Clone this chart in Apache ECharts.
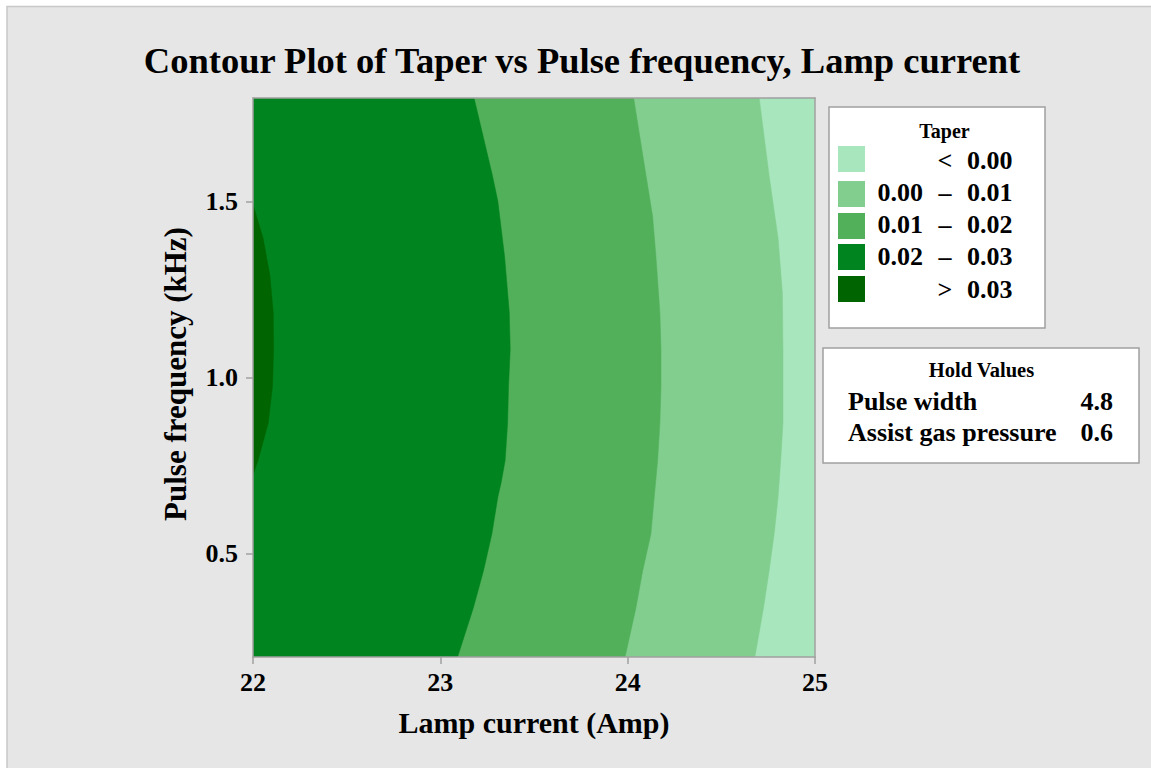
<!DOCTYPE html>
<html><head><meta charset="utf-8">
<script src="https://cdn.jsdelivr.net/npm/echarts@6/dist/echarts.min.js"></script>
<style>html,body{margin:0;padding:0;background:#fff}#c{width:1151px;height:768px}</style>
</head><body><div id="c"></div>
<script>
// ---- data ----
const xMin = 22, xMax = 25;
const yMin = 0.207, yMax = 1.793;
const xTicks = [22, 23, 24, 25];
const yTicks = [0.5, 1.0, 1.5];
const levelNames = ['< 0.00', '0.00 – 0.01', '0.01 – 0.02', '0.02 – 0.03', '> 0.03'];
const levelColors = ['#A8E6BD', '#82CE8F', '#52B05A', '#00841F', '#006400'];
const legendLabels = [['', '<', '0.00'], ['0.00', '–', '0.01'], ['0.01', '–', '0.02'], ['0.02', '–', '0.03'], ['', '>', '0.03']];
const holdNames = ['Pulse width', 'Assist gas pressure'];
const holdValues = ['4.8', '0.6'];

// contour boundaries (x at given y)
const edgeY = [1.793, 0.207];
const edgeX = [25, 25];
const b0Y = [1.793, 1.573, 1.395, 1.238, 1.08, 0.87, 0.765, 0.661, 0.556, 0.451, 0.346, 0.207];
const b0X = [24.702, 24.755, 24.803, 24.826, 24.829, 24.829, 24.817, 24.803, 24.782, 24.755, 24.725, 24.679];
const b1Y = [1.793, 1.573, 1.458, 1.343, 1.185, 1.08, 0.975, 0.87, 0.765, 0.661, 0.556, 0.451, 0.346, 0.207];
const b1X = [24.032, 24.098, 24.133, 24.151, 24.172, 24.178, 24.178, 24.172, 24.16, 24.142, 24.124, 24.08, 24.044, 23.986];
const b2Y = [1.793, 1.573, 1.5, 1.343, 1.185, 1.08, 0.975, 0.87, 0.765, 0.703, 0.661, 0.556, 0.451, 0.346, 0.207];
const b2X = [23.18, 23.278, 23.307, 23.343, 23.368, 23.373, 23.364, 23.359, 23.346, 23.325, 23.307, 23.275, 23.23, 23.176, 23.092];
const b3Y = [1.49, 1.395, 1.29, 1.185, 1.08, 0.975, 0.87, 0.765, 0.724];
const b3X = [22.0, 22.054, 22.09, 22.108, 22.11, 22.104, 22.081, 22.027, 22.0];

const bounds = [[edgeX, edgeY], [b0X, b0Y], [b1X, b1Y], [b2X, b2Y], [b3X, b3Y]];

const serif = 'Liberation Serif';
const chart = echarts.init(document.getElementById('c'), null, {renderer: 'svg'});

const gridL = 253, gridT = 98, gridR = 1151 - 815, gridB = 768 - 657;
const bold = s => 'bold ' + s + 'px "' + serif + '"';

const graphics = [
  {type: 'rect', z: -10, shape: {x: 0, y: 0, width: 1151, height: 768}, style: {fill: '#FFFFFF'}},
  {type: 'rect', z: -9, shape: {x: 7, y: 6, width: 1144, height: 762}, style: {fill: '#E6E6E6'}},
  {type: 'polyline', z: -8, shape: {points: [[7, 768], [7, 6.5], [1151, 6.5]]}, style: {stroke: '#C8C8C8', lineWidth: 1.5, fill: null}},
  // y axis name
  {type: 'text', x: 175, y: 374, rotation: Math.PI / 2, style: {text: 'Pulse frequency (kHz)', font: bold(31), fill: '#000', align: 'center', verticalAlign: 'middle'}},
  // legend box
  {type: 'rect', shape: {x: 829, y: 107, width: 216, height: 221}, style: {fill: '#fff', stroke: '#A0A0A0', lineWidth: 1.5}},
  {type: 'text', x: 944.5, y: 131, style: {text: 'Taper', font: bold(20), fill: '#000', align: 'center', verticalAlign: 'middle'}},
  // hold values box
  {type: 'rect', shape: {x: 823, y: 348, width: 316, height: 115}, style: {fill: '#fff', stroke: '#A0A0A0', lineWidth: 1.5}},
  {type: 'text', x: 981.5, y: 370, style: {text: 'Hold Values', font: bold(20.5), fill: '#000', align: 'center', verticalAlign: 'middle'}}
];
const rowY = [160.5, 192.5, 224.5, 256.5, 289.5];
const swatchTop = [146, 181, 213, 244, 276];
legendLabels.forEach((lab, i) => {
  graphics.push({type: 'rect', shape: {x: 838, y: swatchTop[i], width: 27, height: 26}, style: {fill: levelColors[i]}});
  const f = bold(26);
  if (lab[0]) graphics.push({type: 'text', x: 923, y: rowY[i], style: {text: lab[0], font: f, fill: '#000', align: 'right', verticalAlign: 'middle'}});
  graphics.push({type: 'text', x: 945, y: rowY[i], style: {text: lab[1], font: f, fill: '#000', align: 'center', verticalAlign: 'middle'}});
  graphics.push({type: 'text', x: 967, y: rowY[i], style: {text: lab[2], font: f, fill: '#000', align: 'left', verticalAlign: 'middle'}});
});
holdNames.forEach((n, i) => {
  const y = 401 + i * 31;
  const f = bold(26);
  graphics.push({type: 'text', x: 848, y: y, style: {text: n, font: f, fill: '#000', align: 'left', verticalAlign: 'middle'}});
  graphics.push({type: 'text', x: 1113, y: y, style: {text: holdValues[i], font: f, fill: '#000', align: 'right', verticalAlign: 'middle'}});
});

const axisLineStyle = {color: '#A0A0A0', width: 1.5};

chart.setOption({
  animation: false,
  backgroundColor: 'transparent',
  title: {
    text: 'Contour Plot of Taper vs Pulse frequency, Lamp current',
    left: 577, top: 37, textAlign: 'center',
    textStyle: {fontFamily: serif, fontWeight: 'bold', fontSize: 36.5, color: '#000'}
  },
  graphic: graphics,
  grid: {left: gridL, top: gridT, right: gridR, bottom: gridB, containLabel: false},
  xAxis: [{
    type: 'value', min: xMin, max: xMax, interval: 1, z: 10,
    name: 'Lamp current (Amp)', nameLocation: 'middle', nameGap: 50,
    nameTextStyle: {fontFamily: serif, fontWeight: 'bold', fontSize: 30, color: '#000'},
    axisLine: {show: true, onZero: false, lineStyle: axisLineStyle},
    axisTick: {show: true, length: 7, lineStyle: axisLineStyle, customValues: xTicks},
    axisLabel: {margin: 12, fontFamily: serif, fontWeight: 'bold', fontSize: 26, color: '#000', customValues: xTicks},
    splitLine: {show: false}
  }, {
    type: 'value', position: 'top', min: xMin, max: xMax, z: 10,
    axisLine: {show: true, onZero: false, lineStyle: axisLineStyle},
    axisTick: {show: false}, axisLabel: {show: false}, splitLine: {show: false}
  }],
  yAxis: [{
    type: 'value', min: yMin, max: yMax, z: 10,
    axisLine: {show: true, onZero: false, lineStyle: axisLineStyle},
    axisTick: {show: true, length: 7, lineStyle: axisLineStyle, customValues: yTicks},
    axisLabel: {margin: 15, fontFamily: serif, fontWeight: 'bold', fontSize: 26, color: '#000', customValues: yTicks,
      formatter: v => Number(v).toFixed(1)},
    splitLine: {show: false}
  }, {
    type: 'value', position: 'right', min: yMin, max: yMax, z: 10,
    axisLine: {show: true, onZero: false, lineStyle: axisLineStyle},
    axisTick: {show: false}, axisLabel: {show: false}, splitLine: {show: false}
  }],
  series: [{
    type: 'custom',
    name: 'Taper',
    clip: true,
    data: levelNames.map((n, i) => ({value: [i], name: n})),
    encode: {x: -1, y: -1},
    renderItem: function (params, api) {
      const i = api.value(0);
      const bx = bounds[i][0], by = bounds[i][1];
      const pts = [];
      pts.push(api.coord([xMin, by[0]]));
      for (let k = 0; k < bx.length; k++) pts.push(api.coord([bx[k], by[k]]));
      pts.push(api.coord([xMin, by[by.length - 1]]));
      return {type: 'polygon', shape: {points: pts}, style: {fill: levelColors[i], stroke: levelColors[i], lineWidth: 0.5}};
    }
  }]
});
</script>
</body></html>
